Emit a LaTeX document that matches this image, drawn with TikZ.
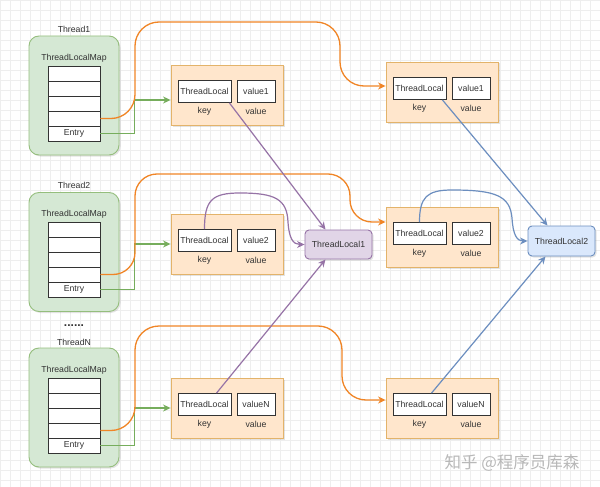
\documentclass[tikz,border=0pt]{standalone}
\usepackage{fontspec}
\setmainfont{Liberation Sans}
\newfontfamily\cjk{Noto Sans CJK SC}
\usetikzlibrary{arrows.meta,calc,shadows}
\definecolor{grnfill}{HTML}{D5E8D4}
\definecolor{grnline}{HTML}{82B366}
\definecolor{grnarrow}{HTML}{76AD5C}
\definecolor{orfill}{HTML}{FFE6CC}
\definecolor{orline}{HTML}{E3B36A}
\definecolor{puf}{HTML}{E1D5E7}
\definecolor{pul}{HTML}{9673A6}
\definecolor{blf}{HTML}{DAE8FC}
\definecolor{bll}{HTML}{6C8EBF}
\definecolor{orarrow}{HTML}{F08526}
\definecolor{txt}{HTML}{333333}
\definecolor{gridc}{HTML}{EEEEEE}
\begin{document}
\begin{tikzpicture}[x=1pt,y=-1pt,
  font=\fontsize{8.7}{10}\selectfont,
  shad/.style={drop shadow={opacity=0.22,shadow xshift=1.5pt,shadow yshift=-1.5pt}},
  grp/.style={draw=grnline!85, fill=grnfill, rounded corners=10pt, line width=0.9pt,
    minimum width=90pt, minimum height=119pt, inner sep=0pt, shad},
  rowbox/.style={draw=black!80, fill=white, minimum width=52pt, minimum height=15pt,
    inner sep=0pt, line width=0.8pt, text=txt},
  ebox/.style={draw=orline, fill=orfill, minimum width=112pt, minimum height=60pt,
    inner sep=0pt, line width=0.9pt, shad},
  kbox/.style={draw=black!80, fill=white, minimum width=53pt, minimum height=22pt,
    inner sep=0pt, line width=0.8pt, text=txt},
  vbox/.style={kbox, minimum width=38pt},
  lbl/.style={text=txt, inner sep=0pt},
  tlone/.style={draw=pul, fill=puf, rounded corners=4pt, minimum width=67pt,
    minimum height=29pt, line width=0.9pt, text=txt, shad},
  tltwo/.style={draw=bll, fill=blf, rounded corners=4pt, minimum width=67pt,
    minimum height=30pt, line width=0.9pt, text=txt, shad},
  arrowtip/.style={-{Stealth[length=7.5pt,width=7pt]}},
  oarr/.style={draw=orarrow, line width=1.3pt, arrowtip, rounded corners=24pt},
  garr/.style={draw=grnarrow, line width=1.4pt, arrowtip},
  parr/.style={draw=pul, line width=1.2pt, arrowtip},
  barr/.style={draw=bll, line width=1.2pt, arrowtip}]

\useasboundingbox (0,0) rectangle (600,487);
\fill[white] (0,0) rectangle (600,487);
\draw[gridc, line width=0.5pt, step=10pt] (0,0) grid (600,487);

% threads
\foreach \t/\y in {1/95.5, 2/252, N/407.5}{
  \node[grp] (g\t) at (74,\y) {};
}
\node[lbl] (th1) at (74,29) {Thread1};
\node[lbl] (m1) at (74,58) {ThreadLocalMap};
\node[lbl] (th2) at (74,185) {Thread2};
\node[lbl] (m2) at (74,214) {ThreadLocalMap};
\node[lbl, font=\fontsize{12}{12}\bfseries\selectfont] (dots) at (74,326) {......};
\node[lbl] (thN) at (74,342) {ThreadN};
\node[lbl] (mN) at (74,370) {ThreadLocalMap};

\foreach \t/\y in {1/73.5, 2/229.5, N/385.5}{
  \node[rowbox] (t\t r1) at (74,\y) {};
  \node[rowbox] (t\t r2) at (74,\y+15) {};
  \node[rowbox] (t\t r3) at (74,\y+30) {};
  \node[rowbox] (t\t r4) at (74,\y+45) {};
  \node[rowbox] (t\t r5) at (74,\y+60) {Entry};
}

% entries
\foreach \n/\x/\y/\v in {a1/227/95/value1, a2/227/244/value2, aN/227/408/valueN,
                         b1/442/92/value1, b2/442/237/value2, bN/442/408/valueN}{
  \node[ebox] (e\n) at (\x,\y) {};
  \node[kbox] (k\n) at ($(e\n.center)+(-22.5,-3.5)$) {ThreadLocal};
  \node[vbox] (v\n) at ($(e\n.center)+(29,-3.5)$) {\v};
  \node[lbl] (kl\n) at ($(e\n.center)+(-22.5,16.5)$) {key};
  \node[lbl] (vl\n) at ($(e\n.center)+(29,16.5)$) {value};
}

\node[tlone] (tl1) at (338.5,244.5) {ThreadLocal1};
\node[tltwo] (tl2) at (561.5,241) {ThreadLocal2};

% green
\draw[garr] (t1r5.east) -| ($(ea1.west)+(-36,5)$) -- ($(ea1.west)+(0,5)$);
\draw[garr] (t2r5.east) -| ($(ea2.west)+(-36,0)$) -- (ea2.west);
\draw[garr] (tNr5.east) -| ($(eaN.west)+(-36,0)$) -- (eaN.west);

% orange
\draw[oarr] (t1r4.east) -| (135,22) -| (340,86) -- ($(eb1.west)+(0,-6)$);
\draw[oarr, rounded corners=22pt] (t2r4.east) -| (135,174) -| (350,222) -- ($(eb2.west)+(0,-15)$);
\draw[oarr] (tNr4.east) -| (135,326) -| (342,400) -- ($(ebN.west)+(0,-8)$);

% purple
\draw[parr] ($(ka1.south east)+(-2,0)$) -- ($(tl1.north)+(-13,0)$);
\draw[parr] (ka2.north) .. controls (204.5,200) and (212,193) .. (240,193)
  .. controls (275,193) and (287,199) .. (288,222)
  .. controls (289,238) and (293,244.5) .. (tl1.west);
\draw[parr] ($(kaN.north)+(12,0)$) -- ($(tl1.south)+(-13,0)$);

% blue
\draw[barr] ($(kb1.south east)+(-4,0)$) -- ($(tl2.north)+(-14,0)$);
\draw[barr] (kb2.north) .. controls (419.5,197) and (427,190) .. (452,190)
  .. controls (496,190) and (510,196) .. (512,218)
  .. controls (513,235) and (517,241) .. (tl2.west);
\draw[barr] ($(kbN.north)+(12,0)$) -- ($(tl2.south)+(-16,0)$);

\node[text=black!28, inner sep=0pt, font=\cjk\fontsize{16.5}{16.5}\selectfont] (wm) at (512,463) {知乎 @程序员库森};
\end{tikzpicture}
\end{document}
